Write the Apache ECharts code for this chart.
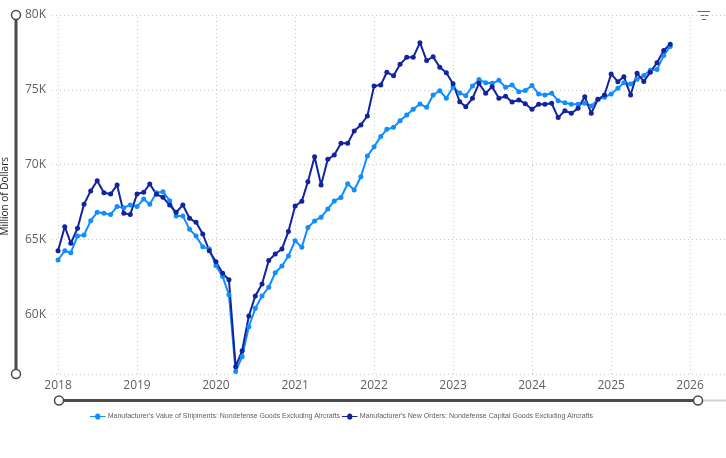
<!DOCTYPE html>
<html>
<head>
<meta charset="utf-8">
<script src="https://cdn.jsdelivr.net/npm/echarts@6/dist/echarts.min.js"></script>
<style>
html,body{margin:0;padding:0;background:#fff;}
#chart{width:726px;height:458px;}
</style>
</head>
<body>
<div id="chart"></div>
<script>
// Monthly periods
const months = [
'2018-01','2018-02','2018-03','2018-04','2018-05','2018-06','2018-07','2018-08','2018-09','2018-10','2018-11','2018-12',
'2019-01','2019-02','2019-03','2019-04','2019-05','2019-06','2019-07','2019-08','2019-09','2019-10','2019-11','2019-12',
'2020-01','2020-02','2020-03','2020-04','2020-05','2020-06','2020-07','2020-08','2020-09','2020-10','2020-11','2020-12',
'2021-01','2021-02','2021-03','2021-04','2021-05','2021-06','2021-07','2021-08','2021-09','2021-10','2021-11','2021-12',
'2022-01','2022-02','2022-03','2022-04','2022-05','2022-06','2022-07','2022-08','2022-09','2022-10','2022-11','2022-12',
'2023-01','2023-02','2023-03','2023-04','2023-05','2023-06','2023-07','2023-08','2023-09','2023-10','2023-11','2023-12',
'2024-01','2024-02','2024-03','2024-04','2024-05','2024-06','2024-07','2024-08','2024-09','2024-10','2024-11','2024-12',
'2025-01','2025-02','2025-03','2025-04','2025-05','2025-06','2025-07','2025-08','2025-09','2025-10'
];

// Year tick labels on the x axis
const yearTicks = ['2018','2019','2020','2021','2022','2023','2024','2025','2026'];

// Manufacturer's Value of Shipments: Nondefense Goods Excluding Aircrafts (thousand million $)
const shipments = [
63.62,64.24,64.11,65.23,65.29,66.25,66.81,66.74,66.67,67.19,67.12,67.30,
67.19,67.70,67.35,68.12,68.19,67.59,66.56,66.56,65.67,65.23,64.50,64.35,
63.25,62.51,61.30,56.16,57.16,59.16,60.39,61.22,61.80,62.77,63.22,63.89,
64.91,64.48,65.80,66.23,66.48,67.03,67.57,67.80,68.72,68.30,69.19,70.57,
71.20,71.87,72.36,72.49,72.93,73.32,73.70,74.05,73.83,74.65,74.94,74.43,
75.19,74.79,74.60,75.25,75.68,75.47,75.43,75.63,75.17,75.32,74.87,74.96,
75.28,74.72,74.65,74.77,74.27,74.14,74.03,74.03,74.10,73.92,74.36,74.50,
74.72,75.10,75.47,75.39,75.70,75.95,76.30,76.35,77.30,77.90
];

// Manufacturer's New Orders: Nondefense Capital Goods Excluding Aircrafts
const orders = [
64.24,65.85,64.74,65.74,67.35,68.24,68.92,68.12,68.03,68.64,66.74,66.67,
68.03,68.15,68.70,68.01,67.81,67.30,66.81,67.30,66.41,66.14,65.36,64.24,
63.50,62.73,62.30,56.49,57.56,59.88,61.22,62.02,63.58,64.02,64.36,65.52,
67.23,67.55,68.86,70.53,68.64,70.35,70.64,71.42,71.42,72.25,72.65,73.25,
75.25,75.32,76.17,75.94,76.70,77.17,77.17,78.15,76.95,77.21,76.50,76.14,
75.41,74.20,73.87,74.43,75.43,74.77,75.21,74.43,74.56,74.18,74.32,74.07,
73.70,74.03,74.03,74.10,73.14,73.60,73.43,73.76,74.54,73.43,74.36,74.65,
76.06,75.54,75.88,74.65,76.10,75.56,76.18,76.81,77.63,78.05
];

const seriesNames = [
"Manufacturer's Value of Shipments: Nondefense Goods Excluding Aircrafts",
"Manufacturer's New Orders: Nondefense Capital Goods Excluding Aircrafts"
];
const yTitle = 'Million of Dollars';

const colors = ['#118DFF', '#12239E'];
const DAY = 24 * 3600 * 1000;
const xMin = Date.UTC(2018, 0, 1) - 28 * DAY;
const xMax = Date.UTC(2026, 0, 1) + 166 * DAY;

function toPairs(vals) {
  return vals.map((v, i) => [months[i] + '-01', v]);
}

const chart = echarts.init(document.getElementById('chart'), null, {renderer: 'canvas'});
const labelColor = '#605E5C';
const font = "'Segoe UI', 'Open Sans', 'Liberation Sans', sans-serif";
const gridStyle = {type: [1, 3], color: '#C8C8C8', width: 1};

const option = {
  animation: false,
  color: colors,
  textStyle: {fontFamily: font},
  grid: {left: 52, right: 0, top: 15, bottom: 84, containLabel: false},
  legend: {
    data: seriesNames,
    left: 85,
    top: 408,
    itemWidth: 18,
    itemHeight: 6,
    itemGap: 2,
    icon: 'path://M0,2.5 L6,2.5 A3,3 0 1 1 12,2.5 L18,2.5 L18,3.5 L12,3.5 A3,3 0 1 1 6,3.5 L0,3.5 Z',
    textStyle: {fontSize: 7, color: labelColor, fontFamily: "'Liberation Sans', Arial, sans-serif", padding: [0, 0, 0, -4]}
  },
  xAxis: {
    type: 'time',
    min: xMin,
    max: xMax,
    minInterval: 365 * DAY,
    maxInterval: 366 * DAY,
    axisLine: {show: false},
    axisTick: {show: false},
    axisLabel: {
      formatter: '{yyyy}',
      color: labelColor,
      fontSize: 12,
      margin: 6,
      showMinLabel: false,
      showMaxLabel: false
    },
    splitLine: {show: false}
  },
  yAxis: {
    type: 'value',
    min: 56,
    max: 80,
    splitNumber: 5,
    axisLine: {show: false},
    axisTick: {show: false},
    axisLabel: {
      formatter: '{value}K',
      color: labelColor,
      fontSize: 12,
      margin: 6,
      showMinLabel: false
    },
    splitLine: {show: true, lineStyle: gridStyle}
  },
  series: [
    {
      name: 'yearGrid',
      type: 'line',
      data: [],
      silent: true,
      markLine: {
        z: 1,
        silent: true,
        symbol: ['none', 'none'],
        label: {show: false},
        lineStyle: gridStyle,
        emphasis: {disabled: true},
        data: yearTicks.map(y => ({xAxis: y + '-01-01'}))
      }
    },
    {
      name: seriesNames[0],
      type: 'line',
      data: toPairs(shipments),
      symbol: 'circle',
      symbolSize: 5,
      showSymbol: true,
      lineStyle: {width: 2, color: colors[0]},
      itemStyle: {color: colors[0]}
    },
    {
      name: seriesNames[1],
      type: 'line',
      data: toPairs(orders),
      symbol: 'circle',
      symbolSize: 5,
      showSymbol: true,
      lineStyle: {width: 2, color: colors[1]},
      itemStyle: {color: colors[1]}
    }
  ],
  graphic: [
    // y-axis title
    {
      type: 'text', left: 0, top: 157, rotation: Math.PI / 2,
      style: {text: yTitle, fontSize: 10, fill: '#252423', fontFamily: font}
    },
    // vertical slider
    {type: 'line', shape: {x1: 16, y1: 15, x2: 16, y2: 374}, style: {stroke: '#4A4A4A', lineWidth: 3}},
    {type: 'circle', shape: {cx: 16, cy: 15, r: 4.5}, style: {fill: '#fff', stroke: '#4A4A4A', lineWidth: 1.5}},
    {type: 'circle', shape: {cx: 16, cy: 374, r: 4.5}, style: {fill: '#fff', stroke: '#4A4A4A', lineWidth: 1.5}},
    // horizontal slider
    {type: 'line', shape: {x1: 698, y1: 400.5, x2: 726, y2: 400.5}, style: {stroke: '#D0D0D0', lineWidth: 2}},
    {type: 'line', shape: {x1: 59, y1: 400.5, x2: 698, y2: 400.5}, style: {stroke: '#4A4A4A', lineWidth: 3}},
    {type: 'circle', shape: {cx: 59, cy: 400.5, r: 4.5}, style: {fill: '#fff', stroke: '#4A4A4A', lineWidth: 1.5}},
    {type: 'circle', shape: {cx: 698, cy: 400.5, r: 4.5}, style: {fill: '#fff', stroke: '#4A4A4A', lineWidth: 1.5}},
    // filter icon
    {type: 'line', shape: {x1: 697.5, y1: 11.5, x2: 710, y2: 11.5}, style: {stroke: '#666', lineWidth: 1}},
    {type: 'line', shape: {x1: 700, y1: 15.5, x2: 708, y2: 15.5}, style: {stroke: '#666', lineWidth: 1}},
    {type: 'line', shape: {x1: 702, y1: 19.5, x2: 706, y2: 19.5}, style: {stroke: '#666', lineWidth: 1}}
  ]
};
chart.setOption(option);
</script>
</body>
</html>
